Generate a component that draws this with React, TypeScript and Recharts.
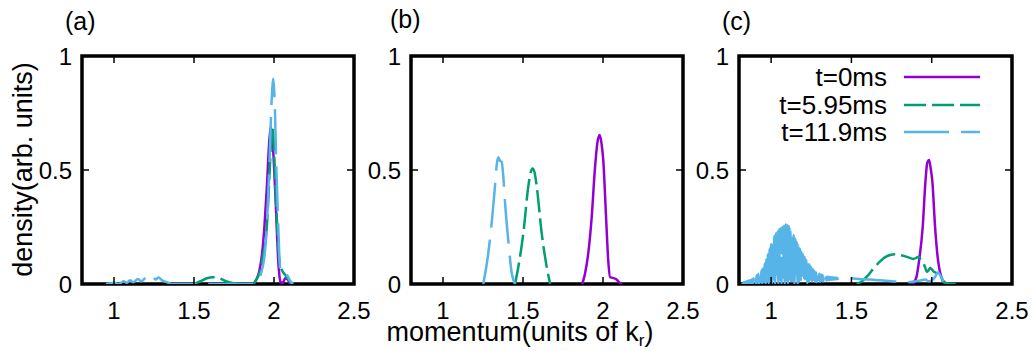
import React from 'react';
import { LineChart, Line, XAxis, YAxis, ReferenceArea, ReferenceLine } from 'recharts';

// ---------- shared ----------
const xTicks = [1, 1.5, 2, 2.5];
const yTicks = [0, 0.5, 1];
const innerXTicks = [1, 1.5, 2];
const innerYTicks = [0.5];
const seriesNames = ['t=0ms', 't=5.95ms', 't=11.9ms'];
const seriesColors = ['#9400d3', '#009e73', '#56b4e9'];
const seriesDash: (string | undefined)[] = [undefined, '22 6', '45 12'];
const panelLabels = ['(a)', '(b)', '(c)'];

// ---------- panel (a) ----------
const a0X = [1.87, 1.89, 1.906, 1.925, 1.94, 1.955, 1.97, 1.98, 1.99, 2.0, 2.01, 2.017, 2.025, 2.032, 2.04, 2.055, 2.07, 2.085, 2.1];
const a0Y = [0, 0.02, 0.05, 0.13, 0.25, 0.42, 0.62, 0.69, 0.64, 0.52, 0.37, 0.25, 0.12, 0.05, 0.01, 0.005, 0.025, 0.02, 0];
const a1X = [1.5, 1.54, 1.58, 1.62, 1.66, 1.7, 1.74, 1.78, 1.87, 1.89, 1.91, 1.93, 1.955, 1.97, 1.985, 1.99, 1.998, 2.008, 2.02, 2.03, 2.04, 2.05, 2.07, 2.09, 2.11];
const a1Y = [0, 0.012, 0.025, 0.03, 0.025, 0.012, 0.004, 0, 0, 0.02, 0.05, 0.12, 0.25, 0.45, 0.66, 0.69, 0.62, 0.45, 0.25, 0.13, 0.08, 0.06, 0.04, 0.02, 0];
const a2X = [0.95, 0.98, 1.0, 1.03, 1.06, 1.08, 1.1, 1.12, 1.15, 1.17, 1.2, 1.22, 1.24, 1.26, 1.28, 1.3, 1.33, 1.36, 1.88, 1.9, 1.92, 1.94, 1.955, 1.97, 1.985, 1.996, 2.005, 2.015, 2.027, 2.035, 2.042, 2.055, 2.07, 2.085, 2.1, 2.12];
const a2Y = [0, 0.003, 0.005, 0, 0.012, 0.005, 0.016, 0.008, 0.022, 0.012, 0.026, 0.014, 0.032, 0.02, 0.028, 0.016, 0.008, 0, 0, 0.015, 0.05, 0.12, 0.25, 0.5, 0.8, 0.9, 0.78, 0.5, 0.25, 0.1, 0.05, 0.04, 0.045, 0.035, 0.015, 0];

// ---------- panel (b) ----------
const b0X = [1.87, 1.8875, 1.908, 1.929, 1.95, 1.965, 1.979, 1.99, 2.002, 2.019, 2.033, 2.044, 2.06, 2.085, 2.1, 2.117];
const b0Y = [0, 0.045, 0.135, 0.29, 0.51, 0.62, 0.653, 0.62, 0.54, 0.295, 0.1, 0.03, 0.027, 0.02, 0.008, 0];
const b1X = [1.45, 1.471, 1.502, 1.533, 1.548, 1.56, 1.572, 1.586, 1.617, 1.648, 1.67];
const b1Y = [0, 0.076, 0.222, 0.427, 0.49, 0.507, 0.49, 0.427, 0.222, 0.076, 0];
const b2X = [1.252, 1.283, 1.31, 1.325, 1.337, 1.346, 1.356, 1.367, 1.377, 1.3875, 1.408, 1.429, 1.45];
const b2Y = [0, 0.135, 0.31, 0.43, 0.53, 0.556, 0.54, 0.536, 0.47, 0.36, 0.19, 0.05, 0];

// ---------- panel (c) ----------
const c0X = [1.87, 1.89, 1.905, 1.921, 1.944, 1.961, 1.972, 1.984, 1.995, 2.004, 2.021, 2.04, 2.06, 2.08, 2.095];
const c0Y = [0, 0.008, 0.03, 0.1, 0.25, 0.45, 0.53, 0.544, 0.5, 0.45, 0.25, 0.1, 0.03, 0.008, 0];
const c1X = [1.533, 1.566, 1.596, 1.64, 1.68, 1.71, 1.741, 1.77, 1.803, 1.85, 1.886, 1.905, 1.917, 1.93, 1.945, 1.958, 1.97, 1.98, 1.99, 2.0, 2.012, 2.025, 2.048, 2.06, 2.07, 2.09, 2.15];
const c1Y = [0, 0.012, 0.032, 0.07, 0.1, 0.118, 0.127, 0.13, 0.127, 0.118, 0.11, 0.115, 0.12, 0.11, 0.097, 0.075, 0.054, 0.06, 0.07, 0.065, 0.055, 0.05, 0.047, 0.03, 0.01, 0.003, 0];
// t=11.9ms in (c): rapidly oscillating signal (peaks and troughs), then a low tail
const c2X = [
  0.82, 0.825, 0.83, 0.835, 0.84, 0.845, 0.85, 0.855, 0.86, 0.865, 0.87, 0.875, 0.88, 0.885, 0.89, 0.895,
  0.9, 0.905, 0.91, 0.915, 0.92, 0.925, 0.93, 0.935, 0.94, 0.945, 0.95, 0.955, 0.96, 0.965, 0.97, 0.975, 0.98, 0.985, 0.99, 0.995,
  1.0, 1.005, 1.01, 1.015, 1.02, 1.025, 1.03, 1.035, 1.04, 1.045, 1.05, 1.055, 1.06, 1.065, 1.07, 1.075, 1.08, 1.085, 1.09, 1.095,
  1.1, 1.105, 1.11, 1.115, 1.12, 1.125, 1.13, 1.135, 1.14, 1.145, 1.15, 1.155, 1.16, 1.165, 1.17, 1.175, 1.18, 1.185, 1.19, 1.195,
  1.2, 1.205, 1.21, 1.215, 1.22, 1.225, 1.23, 1.235, 1.24, 1.245, 1.25, 1.255, 1.26, 1.265, 1.27, 1.275, 1.28, 1.285, 1.29, 1.295,
  1.3, 1.305, 1.31, 1.315, 1.32, 1.325, 1.33, 1.335, 1.34, 1.345, 1.35, 1.355, 1.36, 1.365, 1.37, 1.375, 1.38, 1.385, 1.39, 1.395,
  1.4, 1.405, 1.41, 1.415, 1.42,
  1.46, 1.5, 1.55, 1.6, 1.65, 1.7, 1.75, 1.8, 1.85, 1.9, 1.93, 1.96, 1.98, 2.0, 2.02, 2.04, 2.055, 2.07, 2.09, 2.12,
];
const c2Y: (number | null)[] = [
  0.005, 0, 0.008, 0.002, 0.01, 0, 0.012, 0.003, 0.015, 0, 0.018, 0.004, 0.02, 0, 0.025, 0.005,
  0.03, 0, 0.038, 0.006, 0.045, 0, 0.052, 0.008, 0.06, 0, 0.075, 0.01, 0.09, 0, 0.11, 0.012, 0.13, 0, 0.155, 0.015,
  0.175, 0, 0.195, 0.02, 0.21, 0, 0.222, 0.025, 0.23, 0, 0.24, 0.02, 0.245, 0, 0.25, 0.03, 0.255, 0, 0.262, 0.015,
  0.26, 0, 0.255, 0.02, 0.24, 0, 0.23, 0.015, 0.215, 0, 0.2, 0.02, 0.185, 0, 0.17, 0.01, 0.155, 0, 0.14, 0.012,
  0.13, 0, 0.118, 0.01, 0.105, 0.002, 0.095, 0.01, 0.085, 0.003, 0.075, 0.01, 0.065, 0.005, 0.057, 0.01, 0.05, 0.008, 0.047, 0.012,
  0.045, 0.01, 0.042, 0.014, 0.04, 0.012, 0.037, 0.015, 0.035, 0.015, 0.033, 0.017, 0.032, 0.017, 0.031, 0.019, 0.03, 0.019, 0.029, 0.02,
  0.028, 0.021, 0.027, 0.022, 0.025,
  null, 0.025, 0.022, 0.02, 0.018, 0.015, 0.012, 0.01, 0.008, 0.012, 0.015, 0.02, 0.012, 0.015, 0.03, 0.05, 0.035, 0.015, 0.005, 0,
];

type Pt = { x: number; y: number | null };
const zip = (xs: number[], ys: (number | null)[]): Pt[] => xs.map((x, i) => ({ x, y: ys[i] }));

const panels: { plotLeft: number; plotRight: number; series: Pt[][] }[] = [
  { plotLeft: 82, plotRight: 354, series: [zip(a0X, a0Y), zip(a1X, a1Y), zip(a2X, a2Y)] },
  { plotLeft: 411, plotRight: 683, series: [zip(b0X, b0Y), zip(b1X, b1Y), zip(b2X, b2Y)] },
  { plotLeft: 739, plotRight: 1012, series: [zip(c0X, c0Y), zip(c1X, c1Y), zip(c2X, c2Y)] },
];

// ---------- layout ----------
const H = 351;
const PLOT_TOP = 56;
const PLOT_BOTTOM = 284;
const YAXIS_W = 82;
const XAXIS_H = 30;
const RIGHT_PAD = 20;
const FONT = '"Liberation Sans", Arial, Helvetica, sans-serif';
const TICK_Y = 7 / (PLOT_BOTTOM - PLOT_TOP);
const TICK_X = 7 / 160;

function Panel({ plotLeft, plotRight, series }: { plotLeft: number; plotRight: number; series: Pt[][] }) {
  const width = plotRight - plotLeft + YAXIS_W + RIGHT_PAD;
  const tickStyle = { fontSize: 24, fill: '#000', fontFamily: FONT };
  return (
    <div style={{ position: 'absolute', left: plotLeft - YAXIS_W, top: 0 }}>
      <LineChart
        width={width}
        height={H}
        margin={{ top: PLOT_TOP, right: RIGHT_PAD, bottom: H - PLOT_BOTTOM - XAXIS_H, left: 0 }}
      >
        <XAxis
          type="number"
          dataKey="x"
          domain={[0.8, 2.5]}
          ticks={xTicks}
          allowDataOverflow
          interval={0}
          height={XAXIS_H}
          tickLine={false}
          axisLine={false}
          tickSize={0}
          tickMargin={18}
          tick={tickStyle}
        />
        <YAxis
          type="number"
          domain={[0, 1]}
          ticks={yTicks}
          allowDataOverflow
          interval={0}
          width={YAXIS_W}
          tickLine={false}
          axisLine={false}
          tickSize={0}
          tickMargin={10}
          tick={tickStyle}
        />
        {series.map((d, i) => (
          <Line
            key={i}
            data={d}
            dataKey="y"
            type="monotone"
            stroke={seriesColors[i]}
            strokeWidth={2.5}
            strokeDasharray={seriesDash[i]}
            dot={false}
            activeDot={false}
            isAnimationActive={false}
            connectNulls={false}
          />
        ))}
        {innerXTicks.map((t) => (
          <ReferenceLine key={'b' + t} segment={[{ x: t, y: 0 }, { x: t, y: TICK_Y }]} stroke="#000" strokeWidth={1.5} ifOverflow="visible" />
        ))}
        {innerXTicks.map((t) => (
          <ReferenceLine key={'t' + t} segment={[{ x: t, y: 1 }, { x: t, y: 1 - TICK_Y }]} stroke="#000" strokeWidth={1.5} ifOverflow="visible" />
        ))}
        {innerYTicks.map((t) => (
          <ReferenceLine key={'l' + t} segment={[{ x: 0.8, y: t }, { x: 0.8 + TICK_X, y: t }]} stroke="#000" strokeWidth={1.5} ifOverflow="visible" />
        ))}
        {innerYTicks.map((t) => (
          <ReferenceLine key={'r' + t} segment={[{ x: 2.5, y: t }, { x: 2.5 - TICK_X, y: t }]} stroke="#000" strokeWidth={1.5} ifOverflow="visible" />
        ))}
        <ReferenceArea x1={0.8} x2={2.5} y1={0} y2={1} fill="none" fillOpacity={0} stroke="#000" strokeWidth={3.5} ifOverflow="visible" />
      </LineChart>
    </div>
  );
}

const labelPos = [
  { x: 65, y: 30 },
  { x: 390, y: 28 },
  { x: 722, y: 30 },
];
const legendRows = [77, 105, 132];

export default function App() {
  return (
    <div style={{ position: 'absolute', left: 0, top: 0, width: 1035, height: H, background: '#fff', overflow: 'hidden' }}>
      {panels.map((p, i) => (
        <Panel key={i} plotLeft={p.plotLeft} plotRight={p.plotRight} series={p.series} />
      ))}
      <svg width={1035} height={H} style={{ position: 'absolute', left: 0, top: 0, pointerEvents: 'none' }}>
        {panelLabels.map((t, i) => (
          <text key={t} x={labelPos[i].x} y={labelPos[i].y} fontSize={25} fontFamily={FONT} fill="#000">
            {t}
          </text>
        ))}
        <text
          x={0}
          y={0}
          transform="translate(32,169.5) rotate(-90)"
          textAnchor="middle"
          fontSize={27}
          fontFamily={FONT}
          fill="#000"
        >
          density(arb. units)
        </text>
        <text x={520} y={341} textAnchor="middle" fontSize={27} fontFamily={FONT} fill="#000">
          momentum(units of k<tspan dy={5} fontSize={17}>r</tspan><tspan dy={-5}>)</tspan>
        </text>
        {seriesNames.map((n, i) => (
          <g key={n}>
            <text x={887} y={legendRows[i] + 9} textAnchor="end" fontSize={26} fontFamily={FONT} fill="#000">
              {n}
            </text>
            <line
              x1={904}
              x2={980}
              y1={legendRows[i]}
              y2={legendRows[i]}
              stroke={seriesColors[i]}
              strokeWidth={2.5}
              strokeDasharray={seriesDash[i]}
            />
          </g>
        ))}
      </svg>
    </div>
  );
}
